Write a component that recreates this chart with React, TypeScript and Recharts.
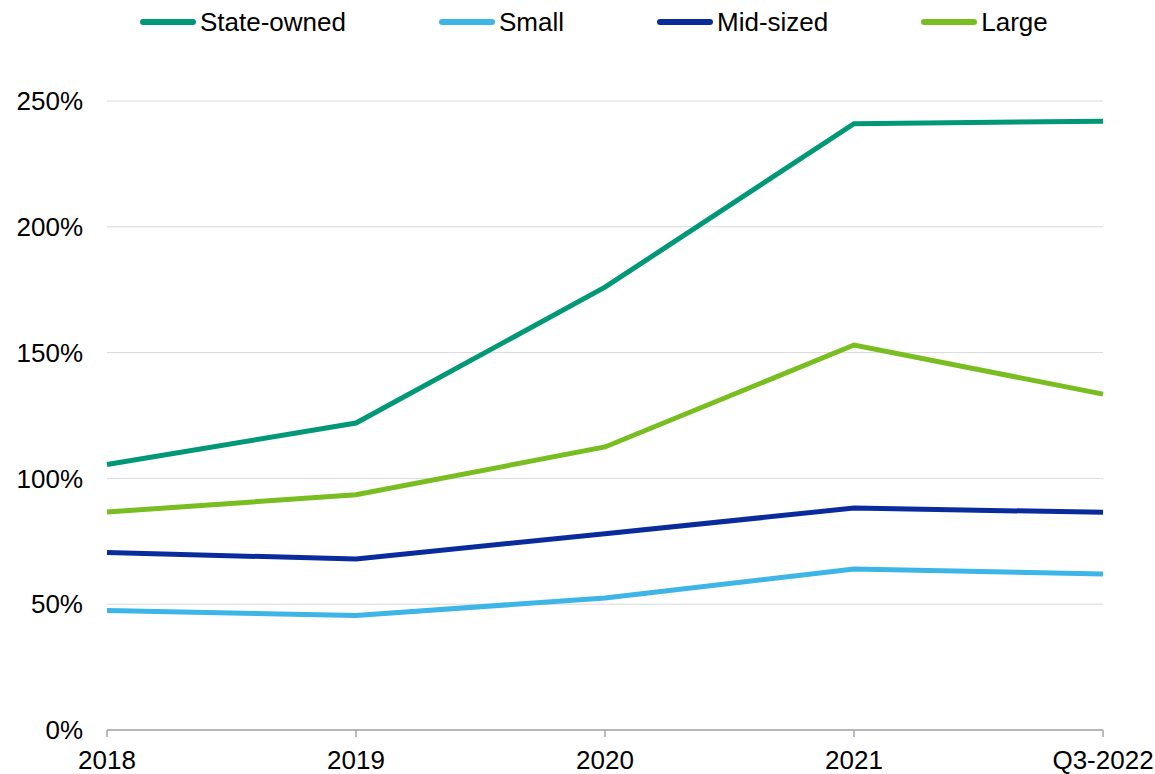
import React from "react";
import {
  LineChart,
  Line,
  XAxis,
  YAxis,
  CartesianGrid,
  Legend,
} from "recharts";

const periods = ["2018", "2019", "2020", "2021", "Q3-2022"];
const stateOwned = [105.5, 122, 176, 241, 242];
const small = [47.5, 45.5, 52.5, 64, 62];
const midSized = [70.5, 68, 78, 88.2, 86.5];
const large = [86.6, 93.5, 112.5, 153, 133.5];
const yTicks = [0, 50, 100, 150, 200, 250];

const series = [
  { key: "stateOwned", name: "State-owned", color: "#009877" },
  { key: "small", name: "Small", color: "#3db5e6" },
  { key: "midSized", name: "Mid-sized", color: "#0a2b9c" },
  { key: "large", name: "Large", color: "#78be21" },
];

const chartData = periods.map((p, i) => ({
  period: p,
  stateOwned: stateOwned[i],
  small: small[i],
  midSized: midSized[i],
  large: large[i],
}));

const FONT = '"Liberation Sans", Arial, sans-serif';

function LegendRow() {
  return (
    <div
      style={{
        display: "flex",
        alignItems: "center",
        height: 44,
        paddingLeft: 140,
        fontFamily: FONT,
        fontSize: 26,
        color: "#000",
      }}
    >
      {series.map((s) => (
        <div
          key={s.key}
          style={{ display: "flex", alignItems: "center", marginRight: 93 }}
        >
          <span
            style={{
              display: "inline-block",
              width: 56,
              height: 6,
              borderRadius: 3,
              background: s.color,
              marginRight: 4,
            }}
          />
          <span>{s.name}</span>
        </div>
      ))}
    </div>
  );
}

export default function App() {
  return (
    <div style={{ position: "absolute", left: 0, top: 0, background: "#fff" }}>
      <LineChart
        width={1155}
        height={774}
        data={chartData}
        margin={{ top: 57, right: 52, bottom: 0, left: 0 }}
      >
        <CartesianGrid vertical={false} stroke="#d9d9d9" strokeWidth={1} />
        <XAxis
          dataKey="period"
          interval={0}
          height={44}
          tickSize={7}
          tickMargin={14}
          axisLine={{ stroke: "#a6a6a6", strokeWidth: 1.5 }}
          tickLine={{ stroke: "#a6a6a6", strokeWidth: 1.5 }}
          tick={{ fontSize: 26, fill: "#000", fontFamily: FONT }}
        />
        <YAxis
          domain={[0, 250]}
          ticks={yTicks}
          width={107}
          axisLine={false}
          tickLine={false}
          tickSize={0}
          tickMargin={24}
          tickFormatter={(v) => `${v}%`}
          tick={{ fontSize: 26, fill: "#000", fontFamily: FONT }}
        />
        <Legend
          verticalAlign="top"
          height={44}
          content={() => <LegendRow />}
          wrapperStyle={{ left: 0, top: 0, width: 1155 }}
        />
        {series.map((s) => (
          <Line
            key={s.key}
            type="linear"
            dataKey={s.key}
            name={s.name}
            stroke={s.color}
            strokeWidth={5}
            dot={false}
            activeDot={false}
            isAnimationActive={false}
          />
        ))}
      </LineChart>
    </div>
  );
}
